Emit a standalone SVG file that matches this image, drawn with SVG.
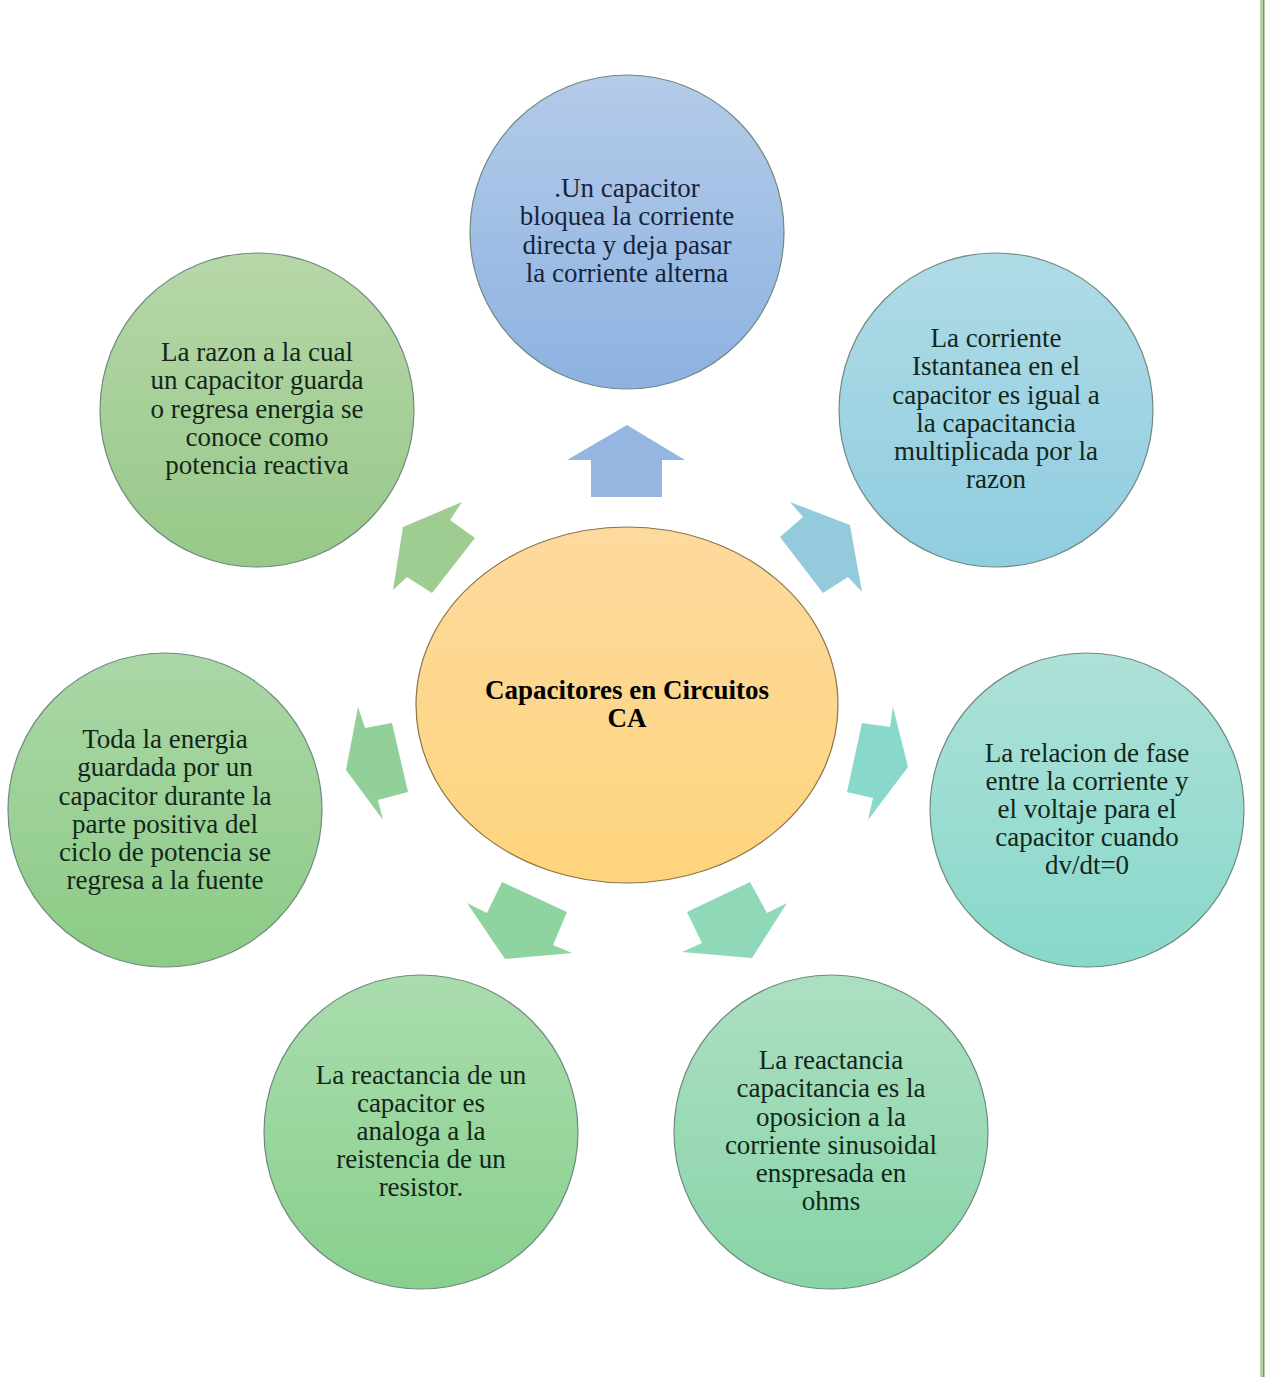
<svg xmlns="http://www.w3.org/2000/svg" width="1265" height="1377" viewBox="0 0 1265 1377">
<defs>
<linearGradient id="gBlue" x1="0" y1="0" x2="0" y2="1"><stop offset="0" stop-color="#b4cbe9"/><stop offset="1" stop-color="#8db2e1"/></linearGradient>
<linearGradient id="gSky" x1="0" y1="0" x2="0" y2="1"><stop offset="0" stop-color="#b0dbe6"/><stop offset="1" stop-color="#8fcde0"/></linearGradient>
<linearGradient id="gOlive" x1="0" y1="0" x2="0" y2="1"><stop offset="0" stop-color="#b7d7a8"/><stop offset="1" stop-color="#97c889"/></linearGradient>
<linearGradient id="gGreen" x1="0" y1="0" x2="0" y2="1"><stop offset="0" stop-color="#abd7a6"/><stop offset="1" stop-color="#8ccb86"/></linearGradient>
<linearGradient id="gAqua" x1="0" y1="0" x2="0" y2="1"><stop offset="0" stop-color="#aee1d7"/><stop offset="1" stop-color="#88d8cb"/></linearGradient>
<linearGradient id="gMint" x1="0" y1="0" x2="0" y2="1"><stop offset="0" stop-color="#aadcae"/><stop offset="1" stop-color="#88d08d"/></linearGradient>
<linearGradient id="gSea" x1="0" y1="0" x2="0" y2="1"><stop offset="0" stop-color="#acdfc2"/><stop offset="1" stop-color="#88d4a7"/></linearGradient>
<linearGradient id="gGold" x1="0" y1="0" x2="0" y2="1"><stop offset="0" stop-color="#fdda9e"/><stop offset="1" stop-color="#fed47c"/></linearGradient>
</defs>
<style>
.c{stroke:#6f8a80;stroke-width:1.2}
text{font-family:'Liberation Serif','Times New Roman',serif}
.t{font-size:27px;text-anchor:middle;fill:#13261a}
.tb{fill:#17233a}
.h{font-size:27px;font-weight:bold;text-anchor:middle;fill:#000}
</style>
<rect width="1265" height="1377" fill="#ffffff"/>
<line x1="1261" y1="0" x2="1261" y2="1377" stroke="#9cc08a" stroke-width="1.5"/>
<line x1="1263.5" y1="0" x2="1263.5" y2="1377" stroke="#6e9a58" stroke-width="2"/>

<g id="connectors">
<polygon points="627,425 685,460 662,460 662,497 591,497 591,460 567,460" fill="#95b6e0"/>
<polygon points="790,502 803,517 780,537 823,593 848,577 862,592 850,525" fill="#93cbdc"/>
<polygon points="462,502 450,520 475,538 432,593 407,577 393,590 403,527" fill="#9fcc90"/>
<polygon points="358,707 365,728 392,723 408,792 378,800 383,820 346,770" fill="#92d09a"/>
<polygon points="893,707 890,727 862,723 847,792 873,798 868,820 908,767" fill="#88d8cc"/>
<polygon points="467,903 487,913 502,882 567,912 553,945 572,953 505,959" fill="#8ed4a0"/>
<polygon points="787,903 767,913 750,882 687,912 702,943 682,952 752,958" fill="#8fd8b8"/>
</g>

<g id="center" font-family="Liberation Serif, serif">
<ellipse cx="627" cy="705" rx="211" ry="178" fill="url(#gGold)" stroke="#8a7448" stroke-width="1.2"/>
<text class="h" x="627" y="699">Capacitores en Circuitos</text>
<text class="h" x="627" y="727">CA</text>
</g>

<g id="n-top" font-family="Liberation Serif, serif">
<circle class="c" cx="627" cy="232" r="157" fill="url(#gBlue)" stroke="#6f86a8"/>
<text class="t tb" x="627" y="197">.Un capacitor</text>
<text class="t tb" x="627" y="225">bloquea la corriente</text>
<text class="t tb" x="627" y="254">directa y deja pasar</text>
<text class="t tb" x="627" y="282">la corriente alterna</text>
</g>

<g id="n-upper-right" font-family="Liberation Serif, serif">
<circle class="c" cx="996" cy="410" r="157" fill="url(#gSky)"/>
<text class="t" x="996" y="347">La corriente</text>
<text class="t" x="996" y="375">Istantanea en el</text>
<text class="t" x="996" y="404">capacitor es igual a</text>
<text class="t" x="996" y="432">la capacitancia</text>
<text class="t" x="996" y="460">multiplicada por la</text>
<text class="t" x="996" y="488">razon</text>
</g>

<g id="n-upper-left" font-family="Liberation Serif, serif">
<circle class="c" cx="257" cy="410" r="157" fill="url(#gOlive)"/>
<text class="t" x="257" y="361">La razon a la cual</text>
<text class="t" x="257" y="389">un capacitor guarda</text>
<text class="t" x="257" y="418">o regresa energia se</text>
<text class="t" x="257" y="446">conoce como</text>
<text class="t" x="257" y="474">potencia reactiva</text>
</g>

<g id="n-left" font-family="Liberation Serif, serif">
<circle class="c" cx="165" cy="810" r="157" fill="url(#gGreen)"/>
<text class="t" x="165" y="748">Toda la energia</text>
<text class="t" x="165" y="776">guardada por un</text>
<text class="t" x="165" y="805">capacitor durante la</text>
<text class="t" x="165" y="833">parte positiva del</text>
<text class="t" x="165" y="861">ciclo de potencia se</text>
<text class="t" x="165" y="889">regresa a la fuente</text>
</g>

<g id="n-right" font-family="Liberation Serif, serif">
<circle class="c" cx="1087" cy="810" r="157" fill="url(#gAqua)"/>
<text class="t" x="1087" y="762">La relacion de fase</text>
<text class="t" x="1087" y="790">entre la corriente y</text>
<text class="t" x="1087" y="818">el voltaje para el</text>
<text class="t" x="1087" y="846">capacitor cuando</text>
<text class="t" x="1087" y="874">dv/dt=0</text>
</g>

<g id="n-bottom-left" font-family="Liberation Serif, serif">
<circle class="c" cx="421" cy="1132" r="157" fill="url(#gMint)"/>
<text class="t" x="421" y="1084">La reactancia de un</text>
<text class="t" x="421" y="1112">capacitor es</text>
<text class="t" x="421" y="1140">analoga a la</text>
<text class="t" x="421" y="1168">reistencia de un</text>
<text class="t" x="421" y="1196">resistor.</text>
</g>

<g id="n-bottom-right" font-family="Liberation Serif, serif">
<circle class="c" cx="831" cy="1132" r="157" fill="url(#gSea)"/>
<text class="t" x="831" y="1069">La reactancia</text>
<text class="t" x="831" y="1097">capacitancia es la</text>
<text class="t" x="831" y="1126">oposicion a la</text>
<text class="t" x="831" y="1154">corriente sinusoidal</text>
<text class="t" x="831" y="1182">enspresada en</text>
<text class="t" x="831" y="1210">ohms</text>
</g>
</svg>
